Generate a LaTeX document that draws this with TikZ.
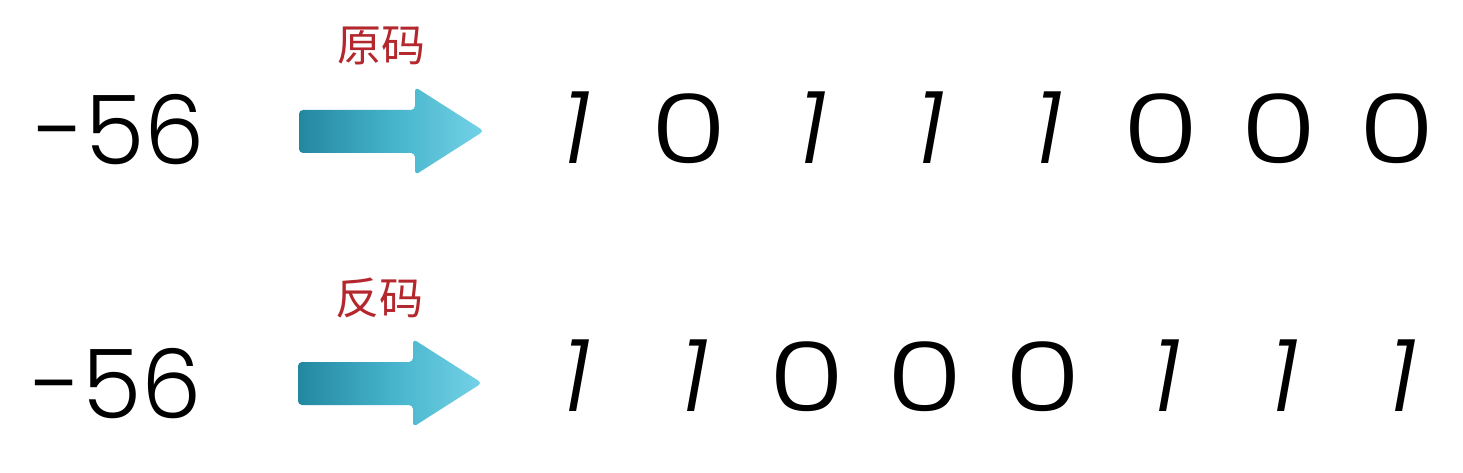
\documentclass[tikz,border=0pt]{standalone}
\usepackage{fontspec}
\usepackage{graphicx}
\newfontfamily\numfont{Poppins Light}
\newfontfamily\onefont[FakeSlant=0.18]{Poppins Light}
\newfontfamily\cjkfont{Noto Sans CJK SC}
\definecolor{codered}{HTML}{B3272D}
\definecolor{arrowdark}{HTML}{2387A0}
\definecolor{arrowmid}{HTML}{45B3CA}
\definecolor{arrowlight}{HTML}{74D2E7}
\newcommand{\bitglyph}[1]{\ifnum#1=0 \scalebox{1.25}[0.96]{0}\else{\onefont 1}\fi}

\begin{document}
\begin{tikzpicture}[x=1pt,y=-1pt,
  bit/.style={font=\numfont\fontsize{100}{100}\selectfont, inner sep=0pt, anchor=base},
  num/.style={font=\numfont\fontsize{96}{96}\selectfont, inner sep=0pt, anchor=base west},
  codelabel/.style={font=\cjkfont\fontsize{44}{44}\selectfont, text=codered, inner sep=0pt},
  bigarrow/.style={rounded corners=4pt, left color=arrowdark, right color=arrowlight, middle color=arrowmid}]
\useasboundingbox[fill=white] (0,0) rectangle (1463,473);
%%% ROW 1: ORIGINAL CODE
\node[num] (n1) at (35,165) {-56};
\node[codelabel] (l1) at (381,46) {原码};
\path[bigarrow] (299,110) -- (415,110) -- (415,87) -- (484,131) -- (415,175) -- (415,153) -- (299,153) -- cycle;
\foreach \d [count=\i] in {1,0,1,1,1,0,0,0}
  \node[bit] (a\i) at ({571+118*(\i-1)},164) {\bitglyph{\d}};
%%% ROW 2: ONES' COMPLEMENT
\node[num] (n2) at (32,418) {-56};
\node[codelabel] (l2) at (379,298) {反码};
\path[bigarrow] (298,362) -- (413,362) -- (413,339) -- (482,383) -- (413,427) -- (413,405) -- (298,405) -- cycle;
\foreach \d [count=\i] in {1,1,0,0,0,1,1,1}
  \node[bit] (b\i) at ({571+118*(\i-1)},411) {\bitglyph{\d}};
\end{tikzpicture}
\end{document}
